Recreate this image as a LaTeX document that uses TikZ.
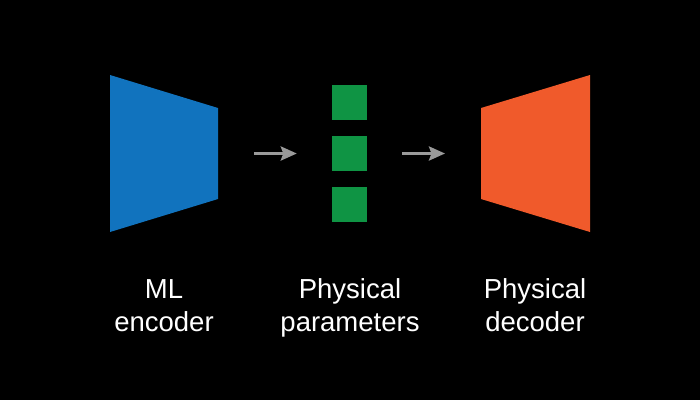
\documentclass[tikz,border=0pt]{standalone}
\usepackage{fontspec}
\setmainfont{Liberation Sans}
\usetikzlibrary{arrows.meta}
\definecolor{encblue}{HTML}{1173BE}
\definecolor{pgreen}{HTML}{0F9444}
\definecolor{decorange}{HTML}{F05A2B}
\definecolor{arrgray}{HTML}{9A9A9A}
\tikzset{
  param/.style={fill=pgreen, draw=none, minimum width=35pt, minimum height=35pt, inner sep=0pt},
  flow/.style={draw=arrgray, line width=3pt, -{Stealth[length=16pt,width=14pt,inset=2.5pt]}},
  lbl/.style={text=white, align=center, font=\fontsize{27.5}{33}\selectfont, anchor=base, inner sep=0pt}
}
\begin{document}
\begin{tikzpicture}[x=1pt,y=-1pt]
\fill[black] (0,0) rectangle (700,400);
\useasboundingbox (0,0) rectangle (700,400);
% encoder
\fill[encblue] (110,75) -- (218,108) -- (218,199) -- (110,232) -- cycle;
\coordinate (encR) at (218,153.5);
% parameters
\node[param] (p1) at (349.5,102) {};
\node[param] (p2) at (349.5,153.5) {};
\node[param] (p3) at (349.5,204.5) {};
% decoder
\fill[decorange] (481,108) -- (590,75) -- (590,232) -- (481,199) -- cycle;
\coordinate (decL) at (481,153.5);
% arrows
\draw[flow, shorten <=36pt, shorten >=35pt] (encR) -- (p2.west);
\draw[flow, shorten <=35pt, shorten >=36pt] (p2.east) -- (decL);
% labels
\node[lbl] (l1) at (164,331) {ML\\encoder};
\node[lbl] (l2) at (350,331) {Physical\\parameters};
\node[lbl] (l3) at (535,331) {Physical\\decoder};
\end{tikzpicture}
\end{document}
